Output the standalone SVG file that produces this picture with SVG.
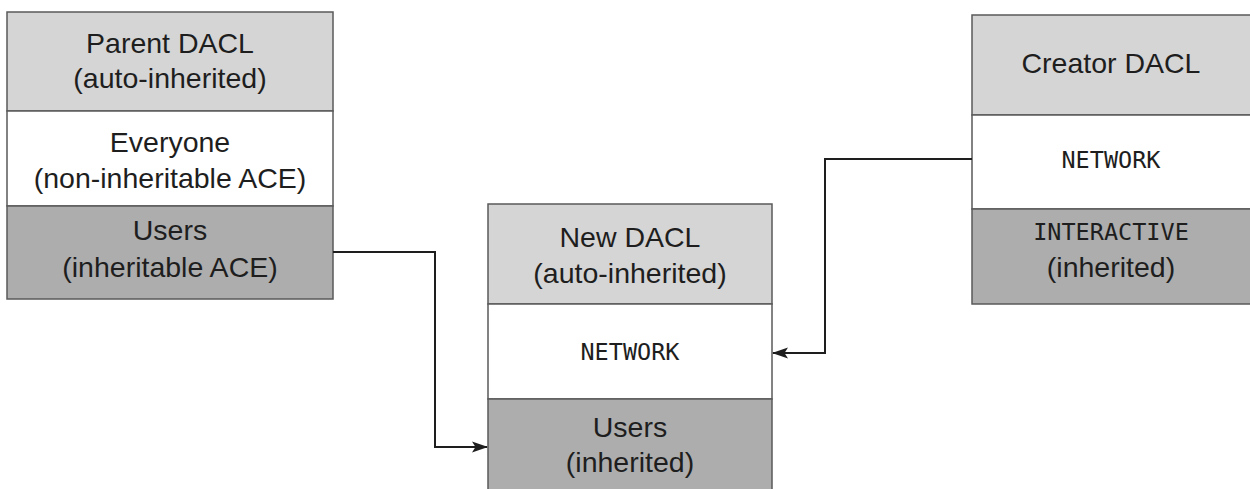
<svg xmlns="http://www.w3.org/2000/svg" width="1250" height="489" viewBox="0 0 1250 489">
<style>
.lt{fill:#d5d5d5;stroke:#5a5a5a;stroke-width:1.5}
.wh{fill:#ffffff;stroke:#5a5a5a;stroke-width:1.5}
.dk{fill:#adadad;stroke:#5a5a5a;stroke-width:1.5}
.t{font-family:"Liberation Sans",Arial,sans-serif;font-size:28.5px;fill:#1e1e1e;text-anchor:middle}
.m{font-family:"DejaVu Sans Mono","Liberation Mono",monospace;font-size:23.5px;fill:#1e1e1e;text-anchor:middle}
.c{fill:none;stroke:#1e1e1e;stroke-width:2}
</style>
<defs>
<marker id="ah" markerWidth="16" markerHeight="12" refX="15" refY="6" orient="auto" markerUnits="userSpaceOnUse">
<path d="M0,0.5 L16,6 L0,11.5 L3.5,6 Z" fill="#1e1e1e"/>
</marker>
</defs>
<g id="parent">
<rect class="lt" x="7" y="12" width="326" height="99"/>
<rect class="wh" x="7" y="111" width="326" height="95"/>
<rect class="dk" x="7" y="206" width="326" height="93"/>
<text class="t" x="170" y="53">Parent DACL</text>
<text class="t" x="170" y="88">(auto-inherited)</text>
<text class="t" x="170" y="152">Everyone</text>
<text class="t" x="170" y="188">(non-inheritable ACE)</text>
<text class="t" x="170" y="240">Users</text>
<text class="t" x="170" y="277">(inheritable ACE)</text>
</g>
<g id="new">
<rect class="lt" x="488" y="204" width="284" height="100"/>
<rect class="wh" x="488" y="304" width="284" height="95"/>
<rect class="dk" x="488" y="399" width="284" height="92"/>
<text class="t" x="630" y="247">New DACL</text>
<text class="t" x="630" y="283">(auto-inherited)</text>
<text class="m" x="630" y="360">NETWORK</text>
<text class="t" x="630" y="437">Users</text>
<text class="t" x="630" y="472">(inherited)</text>
</g>
<g id="creator">
<rect class="lt" x="972" y="15" width="282" height="100"/>
<rect class="wh" x="972" y="115" width="282" height="94"/>
<rect class="dk" x="972" y="209" width="282" height="95"/>
<text class="t" x="1111" y="73">Creator DACL</text>
<text class="m" x="1111" y="168">NETWORK</text>
<text class="m" x="1111" y="240">INTERACTIVE</text>
<text class="t" x="1111" y="277">(inherited)</text>
</g>
<g id="connectors">
<path class="c" d="M333,252 H435 V447 H487" marker-end="url(#ah)"/>
<path class="c" d="M972,159 H825 V353 H773" marker-end="url(#ah)"/>
</g>
</svg>
